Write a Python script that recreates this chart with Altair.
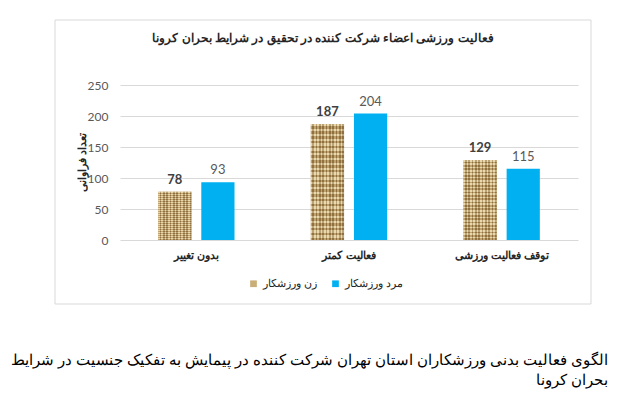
import altair as alt
import pandas as pd

categories = ["بدون تغییر", "فعالیت کمتر", "توقف فعالیت ورزشی"]
series = ["زن ورزشکار", "مرد ورزشکار"]
women = [78, 187, 129]
men = [93, 204, 115]
y_ticks = [0, 50, 100, 150, 200, 250]

title_text = "فعالیت ورزشی اعضاء شرکت کننده در تحقیق در شرایط بحران کرونا"
y_title = "تعداد فراوانی"
caption_1 = "الگوی فعالیت بدنی ورزشکاران استان تهران شرکت کننده در پیمایش به تفکیک جنسیت در شرایط"
caption_2 = "بحران کرونا"

rows = []
for c, w, m in zip(categories, women, men):
    rows.append({"cat": c, "gender": series[0], "value": w})
    rows.append({"cat": c, "gender": series[1], "value": m})
df = pd.DataFrame(rows)

TAN = "#C9AE78"
BLUE = "#00B0F0"
FONT = "Liberation Sans"
NUMFONT = "Lato"


def stripes(light, dark, n, horizontal):
    stops = []
    for i in range(n):
        a = i / n
        b = (i + 0.5) / n
        c = (i + 1) / n
        stops += [alt.GradientStop(color=light, offset=a),
                  alt.GradientStop(color=light, offset=b),
                  alt.GradientStop(color=dark, offset=b),
                  alt.GradientStop(color=dark, offset=c)]
    if horizontal:
        return alt.LinearGradient(gradient="linear", stops=stops, x1=0, x2=0, y1=0, y2=1)
    return alt.LinearGradient(gradient="linear", stops=stops, x1=0, x2=1, y1=0, y2=0)


x_enc = alt.X("cat:N", sort=categories,
              scale=alt.Scale(paddingInner=0.5, paddingOuter=0.25),
              axis=alt.Axis(title=None, domain=False, ticks=False, labelAngle=0,
                            labelPadding=9, labelFont=FONT, labelFontSize=11,
                            labelFontWeight="bold", labelColor="#262626"))
xo_enc = alt.XOffset("gender:N", sort=series,
                     scale=alt.Scale(domain=series, paddingInner=0.23, paddingOuter=0))
y_enc = alt.Y("value:Q", scale=alt.Scale(domain=[0, 250], nice=False),
              axis=alt.Axis(values=y_ticks, title=y_title, domain=False, ticks=False,
                            grid=True, gridColor="#D9D9D9", gridWidth=1,
                            labelPadding=12, labelFont=NUMFONT, labelFontSize=12,
                            labelColor="#595959", labelOverlap=False,
                            titleFont=FONT, titleFontSize=11,
                            titleFontWeight="bold", titleColor="#262626",
                            titleX=-38, titleY=77, titleBaseline="middle", titleAngle=-90))

bars = alt.Chart(df).mark_bar().encode(
    x=x_enc, xOffset=xo_enc, y=y_enc,
    color=alt.Color("gender:N", sort=series,
                    scale=alt.Scale(domain=series, range=[TAN, BLUE]),
                    legend=alt.Legend(title=None, orient="none", direction="horizontal",
                                      legendX=128, legendY=193, symbolType="square",
                                      symbolSize=45, symbolStrokeWidth=0,
                                      labelFont=FONT, labelFontSize=11,
                                      labelColor="#262626", columnPadding=12,
                                      labelOffset=4, padding=0)),
)

wdf = df[df["gender"] == series[0]]
weave_h = alt.Chart(wdf).mark_bar(
    fill=stripes("#E3CF9E", "#A8874F", 24, True)
).encode(x=x_enc, xOffset=xo_enc, y=y_enc)
weave_v = alt.Chart(wdf).mark_bar(
    fill=stripes("rgba(255,245,215,0.25)", "rgba(90,62,25,0.30)", 10, False)
).encode(x=x_enc, xOffset=xo_enc, y=y_enc)

lab_w = alt.Chart(wdf).mark_text(
    baseline="bottom", dy=-5, font=NUMFONT, fontSize=13, fontWeight="bold", color="#404040"
).encode(x=x_enc, xOffset=xo_enc, y=y_enc, text="value:Q")

mdf = df[df["gender"] == series[1]]
lab_m = alt.Chart(mdf).mark_text(
    baseline="bottom", dy=-5, font=NUMFONT, fontSize=13, color="#595959"
).encode(x=x_enc, xOffset=xo_enc, y=y_enc, text="value:Q")

tdf = pd.DataFrame({"t": [title_text]})
border = alt.Chart(tdf).mark_rect(
    fill="white", fillOpacity=0, stroke="#D9D9D9", strokeWidth=1
).encode(x=alt.value(-65), x2=alt.value(471), y=alt.value(-65), y2=alt.value(219))

title = alt.Chart(tdf).mark_text(
    font=FONT, fontSize=12, fontWeight="bold", color="#262626", baseline="middle"
).encode(x=alt.value(203), y=alt.value(-47), text="t:N")

cdf1 = pd.DataFrame({"t": [caption_1]})
cdf2 = pd.DataFrame({"t": [caption_2]})
cap1 = alt.Chart(cdf1).mark_text(
    font=FONT, fontSize=14.5, color="#000000", align="right", baseline="middle"
).encode(x=alt.value(488), y=alt.value(276), text="t:N")
cap2 = alt.Chart(cdf2).mark_text(
    font=FONT, fontSize=14.5, color="#000000", align="right", baseline="middle"
).encode(x=alt.value(488), y=alt.value(296), text="t:N")

chart = alt.layer(border, bars, weave_h, weave_v, lab_w, lab_m, title, cap1, cap2).properties(
    width=458, height=155, autosize="none",
    padding={"left": 120, "top": 85, "right": 62, "bottom": 169},
    background="white",
).configure_view(stroke=None)

chart.save("out.html", embed_options={"renderer": "svg", "actions": False})
